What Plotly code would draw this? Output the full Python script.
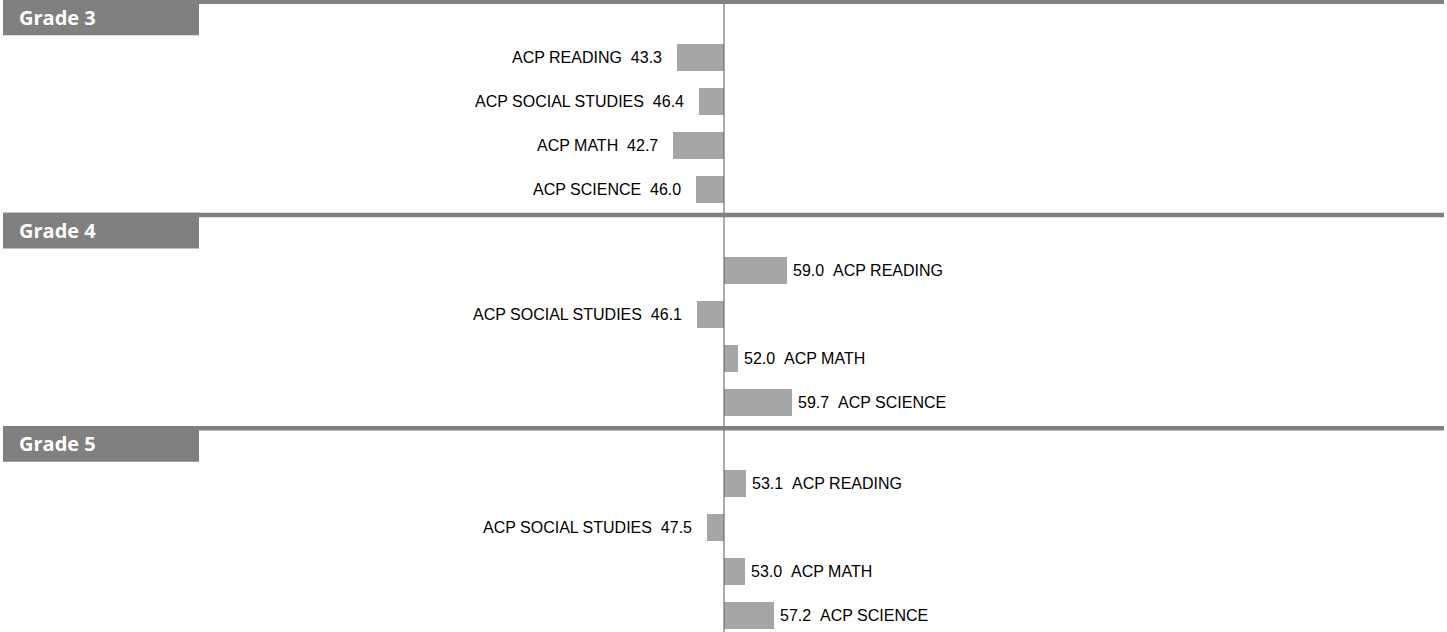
import plotly.graph_objects as go

# ---- data ----
grades = ["Grade 3", "Grade 4", "Grade 5"]
subjects = ["ACP READING", "ACP SOCIAL STUDIES", "ACP MATH", "ACP SCIENCE"]
grade3 = [43.3, 46.4, 42.7, 46.0]
grade4 = [59.0, 46.1, 52.0, 59.7]
grade5 = [53.1, 47.5, 53.0, 57.2]
center_value = 50.0

# ---- layout constants (pixels) ----
W, H = 1447, 632
PX_PER_UNIT = 6.97
CENTER_PX = 724
BLOCK_H = 213.2
BLOCK_TOP0 = -0.5
ROW_OFF = 57.6
ROW_STEP = 44
BAR_H = 27

BAR_COLOR = "#A6A6A6"
HEAD_COLOR = "#808080"
LINE_COLOR = "#595959"
FONT = "Liberation Sans, Arial, sans-serif"

xmin = center_value - CENTER_PX / PX_PER_UNIT
xmax = center_value + (W - CENTER_PX) / PX_PER_UNIT

fig = go.Figure()
shapes = []
annotations = []

for gi, (gname, vals) in enumerate(zip(grades, [grade3, grade4, grade5])):
    top = BLOCK_TOP0 + gi * BLOCK_H
    ys = [top + ROW_OFF + i * ROW_STEP for i in range(len(subjects))]
    fig.add_trace(go.Bar(
        orientation="h",
        y=ys,
        x=[v - center_value for v in vals],
        base=center_value,
        width=BAR_H,
        marker=dict(color=BAR_COLOR, line=dict(width=0)),
        hoverinfo="skip",
        showlegend=False,
    ))
    for subj, v, y in zip(subjects, vals, ys):
        if v < center_value:
            annotations.append(dict(
                x=v, y=y, xref="x", yref="y",
                text=f"{subj}\u00a0\u00a0{v:.1f}",
                xanchor="right", yanchor="middle", showarrow=False,
                xshift=-13, font=dict(family=FONT, size=16, color="#000000"),
            ))
        else:
            annotations.append(dict(
                x=v, y=y, xref="x", yref="y",
                text=f"{v:.1f}\u00a0\u00a0{subj}",
                xanchor="left", yanchor="middle", showarrow=False,
                xshift=4, font=dict(family=FONT, size=16, color="#000000"),
            ))
    # header line across width
    shapes.append(dict(
        type="rect", xref="paper", yref="y",
        x0=3 / W, x1=1444 / W, y0=top, y1=top + 4.6,
        fillcolor=HEAD_COLOR, line=dict(width=0), layer="above",
    ))
    # header box
    shapes.append(dict(
        type="rect", xref="paper", yref="y",
        x0=3 / W, x1=199 / W, y0=top, y1=top + 35.8,
        fillcolor=HEAD_COLOR, line=dict(width=0), layer="above",
    ))
    annotations.append(dict(
        x=17 / W, y=top + 17.5, xref="paper", yref="y",
        text=f"<b>{gname}</b>", xanchor="left", yanchor="middle",
        showarrow=False,
        font=dict(family="Open Sans, sans-serif", size=20, color="#FFFFFF"),
    ))

# vertical center line
shapes.insert(0, dict(
    type="line", xref="x", yref="paper",
    x0=center_value, x1=center_value, y0=0, y1=1,
    line=dict(color=LINE_COLOR, width=1), layer="above",
))

fig.update_layout(
    width=W, height=H,
    margin=dict(l=0, r=0, t=0, b=0),
    paper_bgcolor="white", plot_bgcolor="white",
    xaxis=dict(range=[xmin, xmax], visible=False, fixedrange=True),
    yaxis=dict(range=[H, 0], visible=False, fixedrange=True),
    shapes=shapes, annotations=annotations,
    bargap=0,
)

fig.write_html("out.html", post_script="document.body.style.margin='0';",
               config={"displayModeBar": False})
